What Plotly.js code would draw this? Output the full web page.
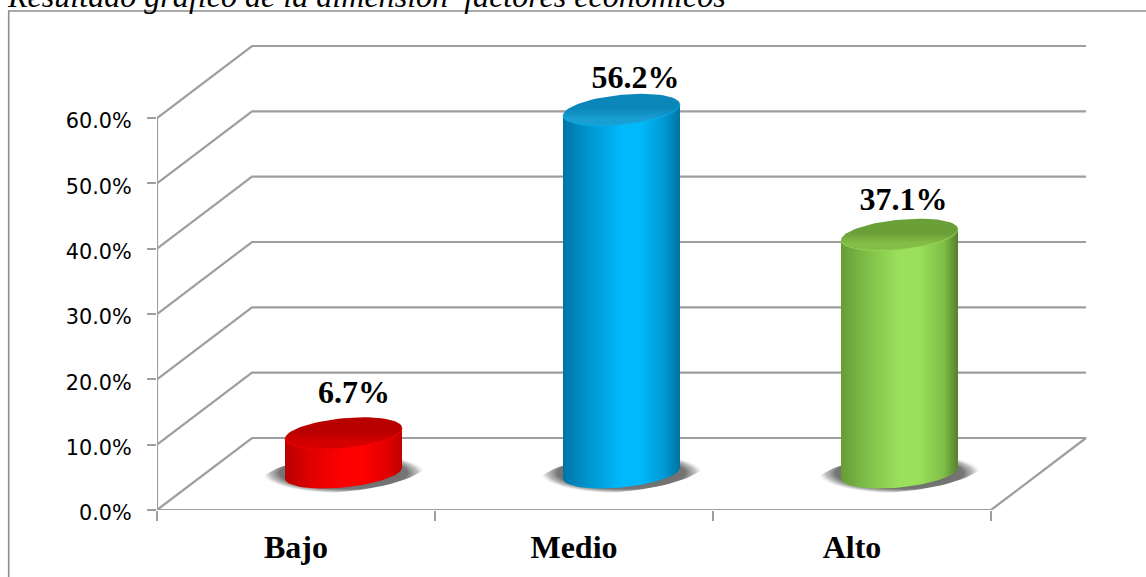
<!DOCTYPE html>
<html><head><meta charset="utf-8">
<script src="https://cdn.plot.ly/plotly-3.0.1.min.js"></script>
<style>html,body{margin:0;padding:0;background:#fff;overflow:hidden}</style>
</head><body><div id="chart" style="width:1146px;height:577px"></div>
<script>
var categories = ["Bajo", "Medio", "Alto"];
var values = [6.7, 56.2, 37.1];
var valueLabels = ["6.7%", "56.2%", "37.1%"];
var yTicks = [0, 10, 20, 30, 40, 50, 60];
var yTickLabels = ["0.0%", "10.0%", "20.0%", "30.0%", "40.0%", "50.0%", "60.0%"];
var bodyEdge = ["#b80000", "#0074a6", "#669c36"];
var bodyShade = ["#e00000", "#0096d0", "#7fbe48"];
var bodyMid = ["#ff0000", "#00b9fb", "#9be05a"];
var bodyEdgeR = ["#c00000", "#0072a2", "#557f2d"];
var topDark = ["#b80000", "#0a86b8", "#6b9f38"];
var topLight = ["#d40000", "#1a9fd2", "#84be48"];

var W = 1146, H = 577, L = 157, R = 1090, T = 40, B = 510;
var pxPerCat = 278, pxPerPct = 6.533;
var xMax = (R - L) / pxPerCat, yMax = (B - T) / pxPerPct;
var depthX = 95 / pxPerCat, depthY = 72 / pxPerPct;
var lineGray = "#9e9e9e";
var midDepthX = 0.5 * depthX;
var topLift = 33 / pxPerPct, baseLift = 37 / pxPerPct;
var a = 58.5 / pxPerCat;
var skewTop = 5.5 / pxPerPct, bTop = 15 / pxPerPct;
var skewBase = 5.5 / pxPerPct, bBase = 14.5 / pxPerPct;

function range(n){var r=[];for(var i=0;i<=n;i++)r.push(i);return r;}
function ellipse(cx, cy, ax, by, sk){
  var xs=[],ys=[];
  range(72).forEach(function(i){var t=i/72*2*Math.PI;
    xs.push(cx+ax*Math.cos(t)); ys.push(cy+by*Math.sin(t)+sk*Math.cos(t));});
  return {x:xs,y:ys};
}
var traces = [];
yTicks.forEach(function(v){
  var isFloor = v === 0;
  var gx = isFloor ? [0, depthX, 3+depthX, 3, 0] : [0, depthX, 3+depthX];
  var gy = isFloor ? [0, depthY, depthY, 0, 0] : [v, v+depthY, v+depthY];
  traces.push({type:"scatter",mode:"lines",x:gx,y:gy,line:{color:lineGray,width:2.2},hoverinfo:"skip",cliponaxis:false});
});
traces.push({type:"scatter",mode:"lines",x:[0,0],y:[0,60],line:{color:lineGray,width:2.2},hoverinfo:"skip",cliponaxis:false});

values.forEach(function(v,i){
  var cx = i + 0.5 + midDepthX;
  var topY = v + topLift;
  var sh = ellipse(cx, 37/pxPerPct, 82/pxPerCat, 19/pxPerPct, 8/pxPerPct);
  traces.push({type:"scatter",mode:"lines",x:sh.x,y:sh.y,fill:"toself",line:{width:0,color:"rgba(0,0,0,0)"},hoverinfo:"skip",
    fillgradient:{type:"radial",colorscale:[[0,"rgba(95,95,95,1)"],[0.78,"rgba(110,110,110,0.95)"],[0.9,"rgba(150,150,150,0.6)"],[1,"rgba(215,215,215,0)"]]}});
  var bx=[], by=[];
  range(36).forEach(function(j){var t=j/36*Math.PI;
    bx.push(cx+a*Math.cos(t)); by.push(baseLift-bBase*Math.sin(t)+skewBase*Math.cos(t));});
  bx.push(cx-a); by.push(topY-skewTop);
  bx.push(cx+a); by.push(topY+skewTop);
  bx.push(bx[0]); by.push(by[0]);
  traces.push({type:"scatter",mode:"lines",x:bx,y:by,fill:"toself",line:{width:0,color:"rgba(0,0,0,0)"},hoverinfo:"skip",
    fillgradient:{type:"horizontal",colorscale:[[0,bodyEdge[i]],[0.22,bodyShade[i]],[0.5,bodyMid[i]],[0.66,bodyMid[i]],[0.88,bodyShade[i]],[1,bodyEdgeR[i]]]}});
  var cap = ellipse(cx, topY, a, bTop, skewTop);
  traces.push({type:"scatter",mode:"lines",x:cap.x,y:cap.y,fill:"toself",line:{width:0,color:"rgba(0,0,0,0)"},hoverinfo:"skip",
    fillgradient:{type:"vertical",colorscale:[[0,topLight[i]],[0.22,topLight[i]],[0.55,topDark[i]],[1,topDark[i]]]}});
  var rx=[], ry=[];
  range(36).forEach(function(j){var t=j/36*Math.PI;
    rx.push(cx+a*Math.cos(t)); ry.push(topY-bTop*Math.sin(t)+skewTop*Math.cos(t));});
  traces.push({type:"scatter",mode:"lines",x:rx,y:ry,line:{color:bodyMid[i],width:1.2},opacity:0.55,hoverinfo:"skip"});
});
var labelShiftX = [10.5, 14, 4], labelLift = [38, 30, 33];
traces.push({type:"scatter",mode:"text",cliponaxis:false,hoverinfo:"skip",
  x:values.map(function(v,i){return i+0.5+midDepthX+labelShiftX[i]/pxPerCat;}),
  y:values.map(function(v,i){return v+topLift+labelLift[i]/pxPerPct;}),
  text:valueLabels,textposition:"middle center",
  textfont:{family:"Liberation Serif",size:32,color:"#000",weight:700}});

var layout = {
  width:W,height:H,showlegend:false,paper_bgcolor:"#fff",plot_bgcolor:"rgba(0,0,0,0)",
  margin:{l:L,r:W-R,t:T,b:H-B,pad:0},
  title:{text:"Resultado gráfico de la dimensión  factores económicos",x:8/W,xanchor:"left",xref:"container",y:1-7/H,yanchor:"bottom",yref:"container",
    font:{family:"Liberation Serif",size:32.1,color:"#000",style:"italic"}},
  xaxis:{range:[0,xMax],showgrid:false,zeroline:false,showline:false,
    tickmode:"array",tickvals:[0.5,1.5,2.5],ticktext:categories,ticks:"",ticklabelstandoff:15,
    tickfont:{family:"Liberation Serif",size:32,color:"#000",weight:700},
    minor:{tickmode:"array",tickvals:[0,1,2,3],ticks:"outside",ticklen:10,tickwidth:2,tickcolor:lineGray,showgrid:false}},
  yaxis:{range:[0,yMax],showgrid:false,zeroline:false,showline:false,
    tickmode:"array",tickvals:yTicks,ticktext:yTickLabels,ticks:"outside",ticklen:9,tickwidth:2,tickcolor:lineGray,ticklabelstandoff:11,ticklabelshift:3,
    tickfont:{family:"DejaVu Sans",size:20.8,color:"#000"}},
  shapes:[{type:"path",xref:"paper",yref:"paper",
    path:"M "+((8.7-L)/(R-L))+" "+((B-H)/(B-T))+" L "+((8.7-L)/(R-L))+" "+((B-11)/(B-T))+" L "+((W-L)/(R-L))+" "+((B-11)/(B-T)),
    line:{color:"#8f8f8f",width:1.6}}]
};
Plotly.newPlot("chart",traces,layout,{displayModeBar:false,staticPlot:true});
</script></body></html>
